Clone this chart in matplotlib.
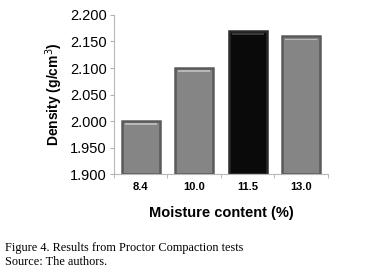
import matplotlib
matplotlib.use("Agg")
import matplotlib.pyplot as plt
import numpy as np

# ── Data ──────────────────────────────────────────────────────────────────────

moisture = ["8.4", "10.0", "11.5", "13.0"]
density = [2.000, 2.100, 2.170, 2.160]
y_ticks = [1.900, 1.950, 2.000, 2.050, 2.100, 2.150, 2.200]

# ── Figure ────────────────────────────────────────────────────────────────────

plt.rcParams["font.family"] = ["Liberation Sans", "DejaVu Sans"]

fig = plt.figure(figsize=(3.76, 2.72), dpi=100)
ax = fig.add_axes([0.303, 0.36, 0.569, 0.585])

x = np.arange(len(moisture))
face = ["#0a0a0a" if v == max(density) else "#858585" for v in density]
edge = ["#2a2a2a" if v == max(density) else "#5a5a5a" for v in density]

ax.bar(x, [v - 1.9 for v in density], bottom=1.9, width=0.71,
       color=face, edgecolor=edge, linewidth=1.8, zorder=2)
# bevel highlight near the top of each bar
hl = ["#3a3a3a" if v == max(density) else "#b8b8b8" for v in density]
ax.bar(x, [0.003] * len(x), bottom=[v - 0.0075 for v in density], width=0.6,
       color=hl, linewidth=0, zorder=3)

ax.set_ylim(1.9, 2.2)
ax.set_xlim(-0.5, len(moisture) - 0.5)
ax.set_yticks(y_ticks)
ax.set_yticklabels([f"{t:.3f}" for t in y_ticks], fontsize=10.5)
ax.set_xticks(x)
ax.set_xticklabels(moisture, fontsize=8, fontweight="bold")
ax.set_xticks(np.arange(-0.5, len(moisture)), minor=True)
ax.tick_params(axis="x", which="major", length=0, pad=6)
ax.tick_params(axis="x", which="minor", length=3, color="#b0b0b0")
ax.tick_params(axis="y", length=3, color="#b0b0b0", pad=2)

for s in ["top", "right"]:
    ax.spines[s].set_visible(False)
for s in ["left", "bottom"]:
    ax.spines[s].set_color("#b8b8b8")
    ax.spines[s].set_linewidth(0.8)

ax.set_ylabel("Density (g/cm$^3$)", fontsize=10, fontweight="bold", labelpad=4)
ax.set_xlabel("Moisture content (%)", fontsize=10.5, fontweight="bold", labelpad=10)

serif = ["Liberation Serif", "DejaVu Serif"]
fig.text(0.013, 0.077, "Figure 4. Results from Proctor Compaction tests",
         family=serif, fontsize=8.8, va="baseline")
fig.text(0.013, 0.026, "Source: The authors.",
         family=serif, fontsize=8.8, va="baseline")

fig.savefig("out.png", dpi=100)
